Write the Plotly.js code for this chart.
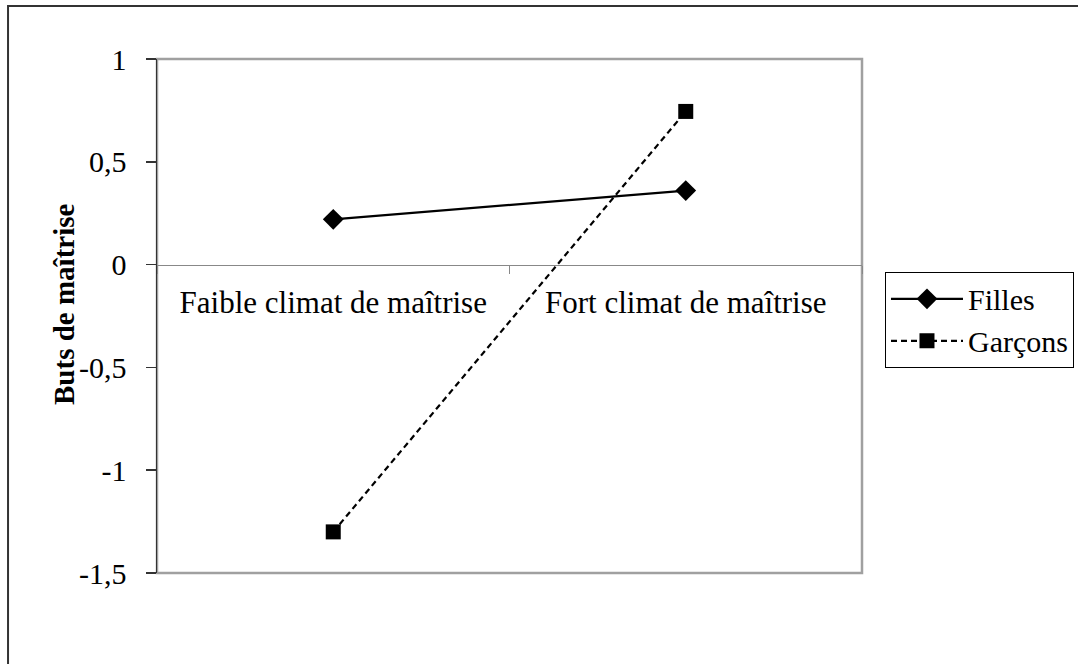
<!DOCTYPE html>
<html>
<head>
<meta charset="utf-8">
<script src="https://cdn.plot.ly/plotly-3.0.1.min.js"></script>
<style>html,body{margin:0;padding:0;background:#fff;}#chart{width:1078px;height:664px;}</style>
</head>
<body>
<div id="chart"></div>
<script>
var categories = ["Faible climat de maîtrise", "Fort climat de maîtrise"];
var filles = [0.22, 0.36];
var garcons = [-1.30, 0.745];
var yTickVals = [1, 0.5, 0, -0.5, -1, -1.5];
var yTickText = ["1", "0,5", "0", "-0,5", "-1", "-1,5"];
var yTitle = "Buts de maîtrise";

var font = "'Liberation Serif', 'Times New Roman', serif";

var traces = [
  {x: categories, y: filles, name: "Filles", type: "scatter", mode: "lines+markers",
   line: {color: "#000", width: 2.2, dash: "solid"},
   marker: {symbol: "diamond", size: 16, color: "#000"}},
  {x: categories, y: garcons, name: "Garçons", type: "scatter", mode: "lines+markers",
   line: {color: "#000", width: 2.2, dash: "6px,4px"},
   marker: {symbol: "square", size: 15, color: "#000"}}
];

var layout = {
  width: 1078, height: 664,
  margin: {l: 157, r: 216, t: 59, b: 91, autoexpand: false},
  paper_bgcolor: "#fff", plot_bgcolor: "#fff",
  font: {family: font, size: 29, color: "#000"},
  showlegend: true,
  legend: {x: 1.0326, y: 0.586, xanchor: "left", yanchor: "top",
           bordercolor: "#000", borderwidth: 1, bgcolor: "#fff",
           font: {family: font, size: 30, color: "#000"}, itemwidth: 72,
           tracegroupgap: 0},
  xaxis: {type: "category", range: [-0.5, 1.5], anchor: "free", position: 0.6,
          showline: true, linecolor: "#888", linewidth: 1,
          ticks: "outside", tickson: "boundaries", ticklen: 8, tickcolor: "#888",
          ticklabelstandoff: 10,
          showgrid: false, zeroline: false, tickfont: {family: font, size: 31, color: "#000"},
          fixedrange: true},
  yaxis: {range: [-1.5, 1], tickvals: yTickVals, ticktext: yTickText,
          showline: true, linecolor: "#333", linewidth: 1.5,
          ticks: "outside", ticklen: 10, tickcolor: "#333", tickwidth: 1.5,
          ticklabelstandoff: 13,
          showgrid: false, zeroline: false,
          tickfont: {family: font, size: 30, color: "#000"},
          fixedrange: true},
  annotations: [
    {text: "<b>" + yTitle + "</b>", xref: "paper", yref: "paper",
     x: (64 - 157) / 705, y: (573 - 304) / 514, xanchor: "center", yanchor: "middle",
     textangle: -90, showarrow: false, font: {family: font, size: 29, color: "#000"}}
  ],
  shapes: [
    {type: "rect", xref: "paper", yref: "paper", x0: 0, x1: 1, y0: 0, y1: 1,
     line: {color: "#a0a0a0", width: 2.5}, layer: "below"},
    {type: "rect", xref: "paper", yref: "paper", x0: -0.2113, x1: 1.4, y0: -0.25, y1: 1.1031,
     line: {color: "#333", width: 2}, layer: "below"}
  ]
};

Plotly.newPlot("chart", traces, layout, {displayModeBar: false, staticPlot: true});
</script>
</body>
</html>
